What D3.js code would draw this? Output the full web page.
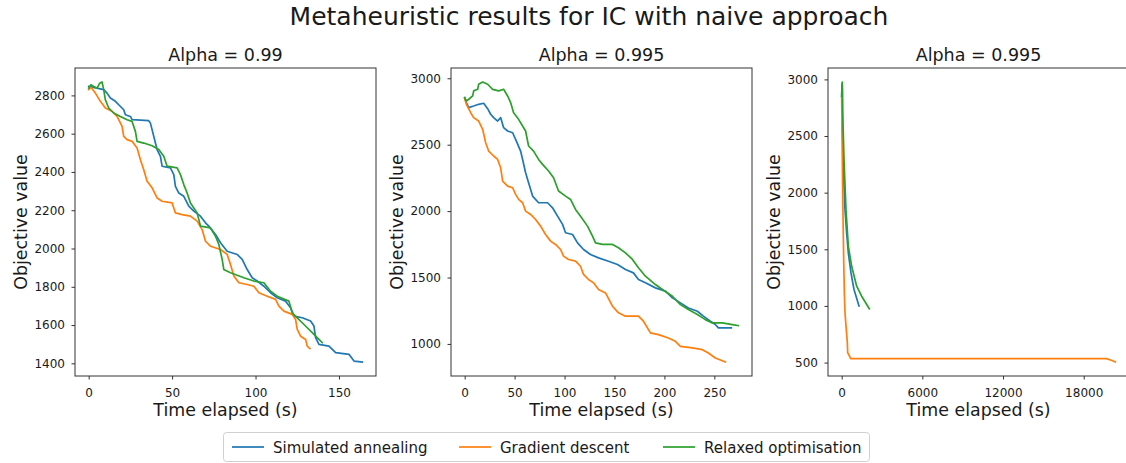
<!DOCTYPE html>
<html>
<head>
<meta charset="utf-8">
<script src="https://cdn.jsdelivr.net/npm/d3@7"></script>
<style>
  body { margin: 0; background: #fff; }
  svg { display: block; font-family: "DejaVu Sans", sans-serif; }
</style>
</head>
<body>
<svg id="chart" width="1126" height="463"></svg>
<script>
// ---- Series names and colours ----
const seriesNames = ["Simulated annealing", "Gradient descent", "Relaxed optimisation"];
const seriesColors = ["#1f77b4", "#ff7f0e", "#2ca02c"];

// ---- Panel titles and axis ticks ----
const panelTitles = ["Alpha = 0.99", "Alpha = 0.995", "Alpha = 0.995"];
const xTicks1 = [0, 50, 100, 150];
const yTicks1 = [1400, 1600, 1800, 2000, 2200, 2400, 2600, 2800];
const xTicks2 = [0, 50, 100, 150, 200, 250];
const yTicks2 = [1000, 1500, 2000, 2500, 3000];
const xTicks3 = [0, 6000, 12000, 18000];
const yTicks3 = [500, 1000, 1500, 2000, 2500, 3000];

// ---- Panel 1 (alpha 0.99): [time, objective] ----
const sa1 = [[0,2847],[9,2830],[11,2812],[13,2786],[16,2769],[18,2751],[21,2725],[22,2699],[25,2690],[26,2673],[36,2668],[37,2655],[38,2621],[40,2551],[41,2517],[43,2482],[44,2430],[49,2421],[51,2386],[52,2325],[54,2290],[57,2273],[60,2221],[63,2195],[67,2169],[70,2134],[72,2117],[76,2073],[79,2030],[83,1986],[89,1969],[92,1943],[95,1890],[98,1847],[101,1830],[105,1803],[109,1769],[113,1743],[118,1725],[121,1690],[123,1647],[128,1638],[133,1621],[135,1595],[136,1534],[138,1499],[144,1490],[148,1456],[156,1447],[159,1412],[164,1407]];
const gd1 = [[0,2830],[1.4,2842],[4,2812],[7,2769],[10,2734],[14,2717],[17,2690],[18,2673],[20,2638],[21,2586],[23,2569],[26,2560],[29,2525],[31,2464],[33,2412],[35,2351],[38,2317],[41,2264],[44,2247],[50,2238],[52,2186],[56,2177],[61,2169],[65,2143],[68,2099],[70,2038],[73,2012],[79,1995],[83,1969],[85,1917],[87,1856],[90,1821],[95,1812],[99,1803],[102,1769],[107,1751],[112,1734],[114,1699],[117,1673],[122,1656],[124,1629],[125,1577],[127,1542],[130,1525],[131,1490],[132.6,1477]];
const ro1 = [[0,2838],[1.4,2856],[3,2847],[5,2838],[6.6,2864],[8,2870],[9,2830],[10,2777],[12,2734],[15,2708],[19,2690],[23,2673],[26,2664],[28,2612],[29,2560],[33,2551],[38,2537],[42,2517],[45,2482],[47,2430],[53,2421],[55,2386],[57,2334],[59,2290],[61,2238],[65,2186],[67,2117],[73,2108],[76,2064],[78,2021],[80,1943],[81,1890],[85,1873],[93,1847],[99,1830],[105,1821],[109,1777],[113,1751],[120,1725],[122,1664],[125,1638],[128,1612],[131,1586],[134,1560],[138,1525],[140,1508]];

// ---- Panel 2 (alpha 0.995): [time, objective] ----
const sa2 = [[0,2854],[1.7,2817],[4,2779],[9,2791],[14,2804],[19,2812],[23,2771],[26,2729],[29,2704],[33,2678],[36,2704],[39,2628],[43,2603],[48,2590],[51,2540],[56,2452],[58,2389],[61,2289],[64,2214],[68,2113],[74,2063],[83,2063],[88,2025],[93,1962],[98,1900],[101,1837],[108,1824],[113,1761],[119,1711],[126,1673],[134,1648],[144,1623],[153,1598],[161,1560],[169,1535],[174,1485],[181,1460],[191,1422],[201,1397],[208,1347],[216,1309],[224,1271],[233,1246],[239,1209],[246,1171],[251,1146],[254,1121],[267,1121]];
const gd2 = [[0,2847],[1.7,2804],[6,2741],[9,2704],[14,2678],[18,2616],[21,2515],[24,2452],[29,2415],[33,2389],[36,2327],[38,2226],[43,2188],[48,2176],[51,2126],[54,2088],[58,2063],[61,2000],[66,1975],[71,1937],[76,1887],[81,1824],[86,1774],[91,1749],[96,1711],[99,1661],[104,1636],[111,1623],[116,1585],[119,1523],[124,1485],[129,1460],[134,1410],[141,1384],[148,1284],[154,1234],[161,1209],[174,1209],[179,1171],[186,1083],[194,1070],[204,1045],[211,1020],[216,982],[228,970],[238,957],[244,932],[251,894],[261,864]];
const ro2 = [[0,2854],[1.7,2829],[4,2842],[8,2867],[9,2905],[13,2917],[14,2955],[18,2972],[23,2955],[28,2917],[34,2905],[39,2917],[43,2867],[46,2817],[49,2741],[54,2691],[61,2603],[64,2490],[69,2452],[74,2389],[78,2352],[84,2302],[89,2251],[94,2151],[101,2113],[106,2088],[111,2013],[116,1962],[123,1887],[128,1812],[131,1761],[138,1749],[148,1749],[154,1724],[161,1686],[168,1636],[174,1573],[181,1510],[191,1447],[198,1410],[208,1359],[216,1296],[224,1259],[233,1221],[241,1183],[248,1158],[258,1158],[268,1146],[274,1138]];

// ---- Panel 3 (alpha 0.995, long run): [time, objective] ----
const sa3 = [[0,2850],[20,2940],[40,2960],[50,2581],[173,2053],[248,1848],[371,1643],[495,1467],[693,1291],[916,1145],[1287,1000]];
const gd3 = [[0,2830],[74,1994],[149,1408],[198,1115],[248,940],[322,822],[421,676],[446,588],[569,559],[668,535],[1362,535],[19683,535],[20054,520],[20351,505]];
const ro3 = [[0,2850],[20,2940],[40,2977],[60,2900],[74,2727],[173,2288],[322,1848],[495,1526],[743,1350],[1114,1174],[1486,1086],[2055,975]];

// ---- Layout ----
const W = 1126, H = 463;
const plotTop = 68, plotBottom = 376, panelW = 301;
const panelLefts = [75, 451, 828];

const panels = [
  { title: panelTitles[0], left: panelLefts[0], series: [sa1, gd1, ro1], xTicks: xTicks1, yTicks: yTicks1 },
  { title: panelTitles[1], left: panelLefts[1], series: [sa2, gd2, ro2], xTicks: xTicks2, yTicks: yTicks2 },
  { title: panelTitles[2], left: panelLefts[2], series: [sa3, gd3, ro3], xTicks: xTicks3, yTicks: yTicks3 }
];

const svg = d3.select("#chart");
svg.append("rect").attr("width", W).attr("height", H).attr("fill", "#fff");

const textColor = "#1a1a1a";
const spineColor = "#333";

// Extent padded by 5% on each side
function padded(ext) {
  const m = (ext[1] - ext[0]) * 0.05;
  return [ext[0] - m, ext[1] + m];
}

// Figure title
svg.append("text")
  .attr("x", 589).attr("y", 25)
  .attr("text-anchor", "middle")
  .attr("font-size", 25)
  .attr("fill", textColor)
  .text("Metaheuristic results for IC with naive approach");

panels.forEach(p => {
  const all = p.series.flat();
  const x = d3.scaleLinear()
    .domain(padded(d3.extent(all, d => d[0])))
    .range([p.left, p.left + panelW]);
  const y = d3.scaleLinear()
    .domain(padded(d3.extent(all, d => d[1])))
    .range([plotBottom, plotTop]);

  const g = svg.append("g");

  // Data lines: blue, orange, then green on top
  const line = d3.line().x(d => x(d[0])).y(d => y(d[1]));
  p.series.forEach((s, i) => {
    g.append("path")
      .datum(s)
      .attr("d", line)
      .attr("fill", "none")
      .attr("stroke", seriesColors[i])
      .attr("stroke-width", 1.7)
      .attr("stroke-linejoin", "round")
      .attr("stroke-linecap", "square");
  });

  // Axes
  const xAxis = g.append("g")
    .attr("transform", `translate(0,${plotBottom})`)
    .call(d3.axisBottom(x).tickValues(p.xTicks).tickSize(3.5).tickPadding(9).tickFormat(d3.format("d")));
  const yAxis = g.append("g")
    .attr("transform", `translate(${p.left},0)`)
    .call(d3.axisLeft(y).tickValues(p.yTicks).tickSize(3.5).tickPadding(6.5).tickFormat(d3.format("d")));
  [xAxis, yAxis].forEach(a => {
    a.select(".domain").remove();
    a.selectAll(".tick line").attr("stroke", spineColor).attr("stroke-width", 1);
    a.selectAll(".tick text")
      .attr("fill", textColor)
      .attr("font-size", 12)
      .attr("font-family", "DejaVu Sans, sans-serif");
  });

  // Frame
  g.append("rect")
    .attr("x", p.left).attr("y", plotTop)
    .attr("width", panelW).attr("height", plotBottom - plotTop)
    .attr("fill", "none")
    .attr("stroke", spineColor)
    .attr("stroke-width", 1);

  // Panel title
  g.append("text")
    .attr("x", p.left + panelW / 2).attr("y", 61)
    .attr("text-anchor", "middle")
    .attr("font-size", 17.5)
    .attr("fill", textColor)
    .text(p.title);

  // Axis labels
  g.append("text")
    .attr("x", p.left + panelW / 2).attr("y", 416)
    .attr("text-anchor", "middle")
    .attr("font-size", 17.4)
    .attr("fill", textColor)
    .text("Time elapsed (s)");
  g.append("text")
    .attr("transform", `translate(${p.left - 48},${(plotTop + plotBottom) / 2}) rotate(-90)`)
    .attr("text-anchor", "middle")
    .attr("font-size", 17.4)
    .attr("fill", textColor)
    .text("Objective value");
});

// Legend
const legend = svg.append("g");
legend.append("rect")
  .attr("x", 223.5).attr("y", 432.5)
  .attr("width", 646).attr("height", 29)
  .attr("rx", 3)
  .attr("fill", "#fff")
  .attr("stroke", "#d0d0d0")
  .attr("stroke-width", 1);
const handleX = [232, 459, 663];
seriesNames.forEach((name, i) => {
  legend.append("line")
    .attr("x1", handleX[i]).attr("x2", handleX[i] + 32)
    .attr("y1", 447).attr("y2", 447)
    .attr("stroke", seriesColors[i])
    .attr("stroke-width", 1.7);
  legend.append("text")
    .attr("x", handleX[i] + 41).attr("y", 452.5)
    .attr("font-size", 15)
    .attr("fill", textColor)
    .text(name);
});
</script>
</body>
</html>
